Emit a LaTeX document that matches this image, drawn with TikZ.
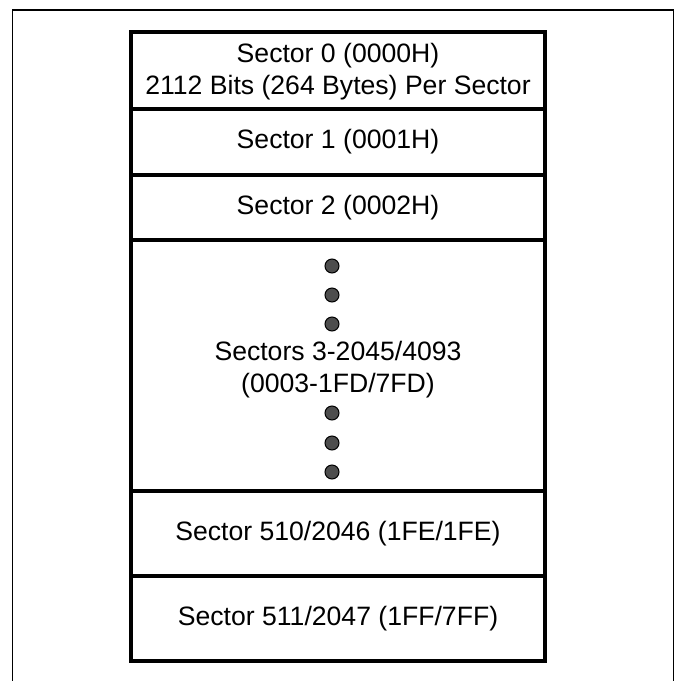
\documentclass[tikz,border=0pt]{standalone}
\usepackage{fontspec}
\setmainfont{Liberation Sans}
\usetikzlibrary{positioning}
\definecolor{dotgray}{HTML}{4D4D4D}
\tikzset{
  frame/.style={draw=black, line width=1.7pt},
  sec/.style={draw=black, line width=4.5pt, minimum width=414pt, inner sep=0pt,
    outer sep=0pt, align=center, font=\fontsize{26.6}{32}\selectfont},
  txt/.style={inner sep=0pt, align=center, font=\fontsize{26.6}{32}\selectfont},
  dot/.style={circle, draw=black, line width=1pt, fill=dotgray, minimum size=14pt, inner sep=0pt},
}
\begin{document}
\begin{tikzpicture}[x=1pt,y=-1pt]
  \useasboundingbox (0,0) rectangle (678,681);
  % outer frame, open at the bottom
  \draw[frame] (12.5,690) -- (12.5,10.3) -- (673.5,10.3) -- (673.5,690);

  % sector rows
  \node[sec, minimum height=77pt] (s0) at (338,70.5) {};
  \node[sec, minimum height=66pt, below=0pt of s0] (s1) {Sector 1 (0001H)};
  \node[sec, minimum height=65pt, below=0pt of s1] (s2) {Sector 2 (0002H)};
  \node[sec, minimum height=251pt, below=0pt of s2] (s3) {};
  \node[sec, minimum height=85pt, below=0pt of s3] (s4) {Sector 510/2046 (1FE/1FE)};
  \node[sec, minimum height=85pt, below=0pt of s4] (s5) {Sector 511/2047 (1FF/7FF)};

  % texts of the two-line rows
  \node[txt] (t0) at ([yshift=-1.5pt]s0.center) {Sector 0 (0000H)\\2112 Bits (264 Bytes) Per Sector};
  \node[txt] (t3) at ([yshift=-4pt]s3.center) {Sectors 3-2045/4093\\(0003-1FD/7FD)};

  % dots
  \foreach \y [count=\i] in {266,295,324,413,443,472}
    \node[dot] (d\i) at (332,\y) {};
\end{tikzpicture}
\end{document}
